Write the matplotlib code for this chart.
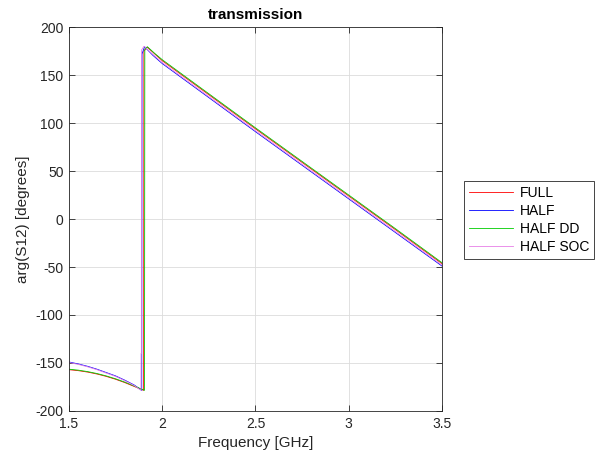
import numpy as np
import matplotlib.pyplot as plt

plt.rcParams['font.family'] = ['Liberation Sans', 'DejaVu Sans']
plt.rcParams['axes.unicode_minus'] = False

# frequency points [GHz] and wrapped phase [deg] per solver
f_full = [1.5, 1.55, 1.6, 1.65, 1.7, 1.75, 1.8, 1.85, 1.9, 1.9015,
          1.92, 1.96, 2.0, 2.25, 2.5, 2.75, 3.0, 3.25, 3.5]
full = [-157, -158, -159.5, -161.5, -164, -167, -170.5, -174.5, -178.5, 175,
        179, 172, 165, 129.5, 94, 59, 24, -11, -46.5]

f_half = [1.5, 1.55, 1.6, 1.65, 1.7, 1.75, 1.8, 1.85, 1.89, 1.8915,
          1.905, 1.95, 2.0, 2.25, 2.5, 2.75, 3.0, 3.25, 3.5]
half = [-149, -151, -153.5, -156.5, -160, -163.5, -168, -173, -178.5, 172,
        179.5, 170.5, 162, 126.5, 91, 56, 21, -14, -49]

f_dd = [1.5, 1.55, 1.6, 1.65, 1.7, 1.75, 1.8, 1.85, 1.905, 1.9065,
        1.92, 1.96, 2.0, 2.25, 2.5, 2.75, 3.0, 3.25, 3.5]
dd = [-156.5, -157.5, -159, -161, -163.5, -166.5, -170, -174, -178.5, 177,
      179.5, 172.5, 166, 130.5, 95, 60, 25, -10, -45.5]

f_soc = [1.5, 1.55, 1.6, 1.65, 1.7, 1.75, 1.8, 1.85, 1.886, 1.8865, 1.888, 1.8885,
         1.902, 1.95, 2.0, 2.25, 2.5, 2.75, 3.0, 3.25, 3.5]
soc = [-149.5, -151.5, -154, -157, -160.5, -164, -168.5, -173.5, -178.5, -140, -140, 176,
       180, 171.5, 163, 127.5, 92, 57, 22, -13, -48]

fig = plt.figure(figsize=(5.98, 4.67), dpi=100)
ax = fig.add_axes([0.1154, 0.12, 0.6237, 0.822])

l1, = ax.plot(f_full, full, color='#ff0000', lw=0.6, label='FULL')
l2, = ax.plot(f_half, half, color='#0000ff', lw=0.6, label='HALF')
l3, = ax.plot(f_dd, dd, color='#00cc00', lw=0.6, label='HALF DD')
l4, = ax.plot(f_soc, soc, color='#e67ee6', lw=0.6, label='HALF SOC')

ax.set_xlim(1.5, 3.5)
ax.set_ylim(-200, 200)
ax.set_xticks([1.5, 2, 2.5, 3, 3.5])
ax.set_xticklabels(['1.5', '2', '2.5', '3', '3.5'])
ax.set_yticks(np.arange(-200, 201, 50))

axc = '#262626'
for s in ax.spines.values():
    s.set_color(axc)
    s.set_linewidth(0.6)
ax.tick_params(direction='in', length=4, width=0.6, colors=axc, labelsize=10,
               top=True, right=True, pad=4)
ax.grid(True, color='#dcdcdc', linewidth=0.6)
ax.set_axisbelow(True)

ax.set_xlabel('Frequency [GHz]', fontsize=11, color=axc)
ax.set_ylabel('arg(S12) [degrees]', fontsize=11, color=axc)
ax.set_title('transmission', fontsize=11, fontweight='bold', color='black', pad=6)

leg = ax.legend(handles=[l1, l2, l3, l4], loc='center left',
                bbox_to_anchor=(0.776, 0.529), bbox_transform=fig.transFigure,
                fontsize=10, frameon=True, fancybox=False, framealpha=1,
                handlelength=3.2, borderpad=0.35, labelspacing=0.3,
                handletextpad=0.45, borderaxespad=0)
leg.get_frame().set_edgecolor(axc)
leg.get_frame().set_linewidth(0.6)

fig.savefig('out.png', dpi=100)
